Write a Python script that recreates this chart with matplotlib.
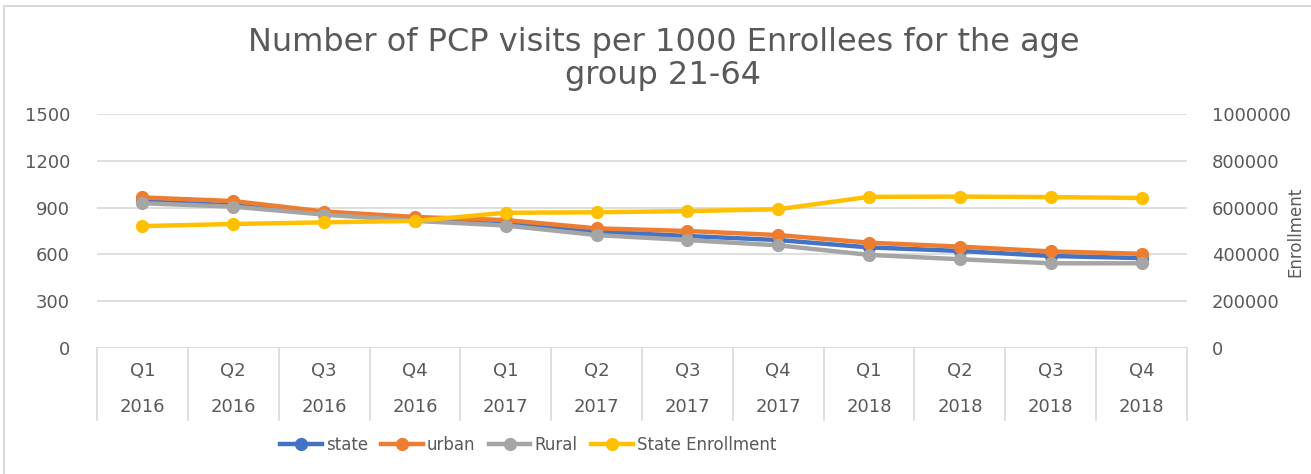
import matplotlib
matplotlib.use("Agg")
import matplotlib.pyplot as plt
from matplotlib.lines import Line2D
import matplotlib.transforms as mtransforms

quarters = ["Q1", "Q2", "Q3", "Q4"] * 3
years = ["2016"] * 4 + ["2017"] * 4 + ["2018"] * 4
state = [940, 915, 860, 825, 800, 746, 718, 692, 645, 622, 590, 576]
urban = [965, 942, 875, 840, 820, 767, 750, 724, 675, 650, 619, 604]
rural = [928, 906, 855, 815, 785, 724, 692, 658, 597, 569, 543, 543]
enrollment = [521000, 530000, 537000, 543000, 578000, 580000, 585000, 593000,
              646000, 647000, 645000, 641000]
left_ticks = [0, 300, 600, 900, 1200, 1500]
right_ticks = [0, 200000, 400000, 600000, 800000, 1000000]
title = "Number of PCP visits per 1000 Enrollees for the age\ngroup 21-64"

plt.rcParams["font.family"] = ["DejaVu Sans"]
TXT = "#595959"
GRID = "#d9d9d9"
W, H = 1311, 474
fig = plt.figure(figsize=(W / 100, H / 100), dpi=100)
ax = fig.add_axes([97 / W, 1 - 348 / H, (1187 - 97) / W, (348 - 114) / H])
ax2 = ax.twinx()

x = list(range(len(quarters)))
lw = 3.2
ms = 8.5
l1, = ax.plot(x, state, color="#4472C4", lw=lw, marker="o", ms=ms, label="state")
l2, = ax.plot(x, urban, color="#ED7D31", lw=lw, marker="o", ms=ms, label="urban")
l3, = ax.plot(x, rural, color="#A5A5A5", lw=lw, marker="o", ms=ms, label="Rural")
l4, = ax2.plot(x, enrollment, color="#FFC000", lw=lw, marker="o", ms=ms,
               label="State Enrollment")

ax.set_xlim(-0.5, len(x) - 0.5)
ax.set_ylim(0, 1500)
ax.set_yticks(left_ticks)
ax.set_yticklabels([str(t) for t in left_ticks])
ax2.set_ylim(0, 1000000)
ax2.set_yticks(right_ticks)
ax2.set_yticklabels([str(t) for t in right_ticks])

for a in (ax, ax2):
    for s in a.spines.values():
        s.set_visible(False)
    a.tick_params(axis="y", length=0, labelsize=13, labelcolor=TXT)
ax.tick_params(axis="y", pad=19.5)
ax2.tick_params(axis="y", pad=18)
ax.set_xticks([])
ax.grid(axis="y", color=GRID, lw=1.2)
ax.set_axisbelow(True)
ax.axhline(0, color=GRID, lw=1.2, zorder=1)

# two-level category axis
trans = mtransforms.blended_transform_factory(ax.transData, ax.transAxes)
h_ax = (348 - 114)
for i in x:
    ax.text(i, -(371 - 348) / h_ax, quarters[i], transform=trans, ha="center",
            va="center", fontsize=13, color=TXT)
    ax.text(i, -(407 - 348) / h_ax, years[i], transform=trans, ha="center",
            va="center", fontsize=13, color=TXT)
for b in [i - 0.5 for i in x] + [len(x) - 0.5]:
    ax.add_line(Line2D([b, b], [0, -(420 - 348) / h_ax], transform=trans,
                       color=GRID, lw=1.2, clip_on=False))

ax2.text(1.0 + (1295 - 1187) / (1187 - 97), 1 - (232 - 114) / h_ax, "Enrollment",
         transform=ax.transAxes, rotation=90, ha="center", va="center",
         fontsize=12, color=TXT)

fig.text(0.506, 1 - 59 / H, title, ha="center", va="center", fontsize=23,
         color=TXT, linespacing=1.08)

fig.legend(handles=[l1, l2, l3, l4], loc="center", ncol=4,
           bbox_to_anchor=(528 / W, 1 - 445 / H), frameon=False,
           labelcolor=TXT, handlelength=2.5, handletextpad=0.25, columnspacing=0.8,
           prop={"family": "DejaVu Sans", "size": 12})

# chart border (top/left)
fig.add_artist(Line2D([4 / W, 1], [1 - 6 / H, 1 - 6 / H], color=GRID, lw=1.5,
                      transform=fig.transFigure))
fig.add_artist(Line2D([4 / W, 4 / W], [0, 1 - 6 / H], color=GRID, lw=1.5,
                      transform=fig.transFigure))

fig.savefig("out.png", dpi=100, facecolor="white")
